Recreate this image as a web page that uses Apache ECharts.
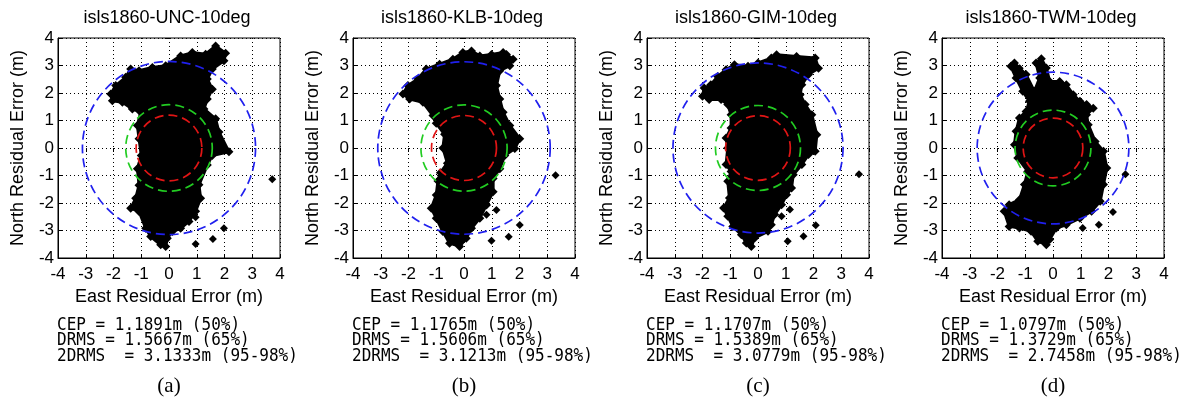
<!DOCTYPE html>
<html><head><meta charset="utf-8">
<script src="https://cdn.jsdelivr.net/npm/echarts/dist/echarts.min.js"></script>
<style>html,body{margin:0;padding:0;background:#fff}#chart{width:1187px;height:401px}</style>
</head><body><div id="chart"></div>
<script>
// ---- data ----
const panelTitles = ['isls1860-UNC-10deg', 'isls1860-KLB-10deg', 'isls1860-GIM-10deg', 'isls1860-TWM-10deg'];
const panelLetters = ['(a)', '(b)', '(c)', '(d)'];
const axisTicks = [-4, -3, -2, -1, 0, 1, 2, 3, 4];
const cepValues = [1.1891, 1.1765, 1.1707, 1.0797];
const drmsValues = [1.5667, 1.5606, 1.5389, 1.3729];
const twoDrmsValues = [3.1333, 3.1213, 3.0779, 2.7458];

// dense cloud outlines (East, North) in metres
const uncOutline = [[1.68,3.71],[2.04,3.45],[1.98,3.17],[1.56,2.87],[1.38,2.51],[1.56,2.14],[1.38,1.78],[1.26,1.42],[1.68,1.06],[1.8,0.58],[2.16,-0.14],[1.56,-0.27],[1.38,-0.62],[1.08,-1.34],[1.14,-1.83],[0.96,-2.3],[0.72,-2.67],[0.42,-2.92],[0.12,-3.04],[-0.06,-3.28],[-0.12,-3.58],[-0.3,-3.52],[-0.66,-3.22],[-0.84,-2.92],[-1.08,-2.31],[-1.38,-2.19],[-1.2,-1.83],[-1.08,-1.35],[-1.14,-0.75],[-1.0,-0.27],[-1.08,0.34],[-1.14,0.82],[-1.02,1.3],[-1.32,1.42],[-1.68,1.66],[-2.04,1.72],[-2.1,1.96],[-1.92,2.27],[-1.56,2.57],[-1.38,2.87],[-1.08,2.81],[-0.6,2.93],[-0.12,2.99],[0.42,3.35],[0.84,3.47],[1.32,3.41]];
const klbOutline = [[-0.04,3.47],[0.27,3.53],[0.57,3.35],[0.99,3.4],[1.41,3.47],[1.53,3.4],[1.77,3.23],[1.65,2.99],[1.29,2.81],[1.17,2.27],[1.29,1.78],[1.41,1.3],[1.65,0.82],[2.01,0.34],[1.83,-0.02],[1.47,-0.27],[1.29,-0.75],[1.05,-1.11],[1.05,-1.59],[0.81,-2.07],[0.57,-2.55],[0.27,-2.92],[0.08,-3.28],[-0.16,-3.58],[-0.52,-3.46],[-0.76,-3.04],[-1.0,-2.55],[-1.18,-2.19],[-1.0,-1.71],[-0.94,-1.2],[-0.85,-0.9],[-0.6,-0.55],[-0.76,0.0],[-0.7,0.5],[-1.0,0.9],[-1.12,1.18],[-1.48,1.66],[-1.96,1.78],[-2.2,1.96],[-2.02,2.27],[-1.66,2.51],[-1.36,2.87],[-0.88,3.05],[-0.4,3.23]];
const gimOutline = [[0.48,3.27],[0.67,3.39],[1.39,3.33],[2.06,3.27],[2.18,2.9],[1.82,2.67],[1.58,2.3],[1.52,1.94],[1.7,1.58],[1.94,1.21],[2.12,0.48],[2.06,-0.12],[1.82,-0.24],[1.58,-0.6],[1.27,-0.97],[1.21,-1.45],[1.03,-1.7],[0.85,-2.06],[0.6,-2.42],[0.48,-2.79],[0.36,-3.03],[-0.12,-3.27],[-0.24,-3.58],[-0.42,-3.45],[-0.6,-3.15],[-0.91,-2.85],[-1.09,-2.48],[-1.24,-2.18],[-1.03,-1.82],[-1.09,-1.21],[-0.97,-0.85],[-1.15,-0.6],[-1.09,0],[-1.15,0.36],[-0.97,0.73],[-0.97,1.21],[-1.09,1.58],[-1.33,1.76],[-1.76,1.76],[-2.0,1.88],[-1.94,2.18],[-1.7,2.3],[-1.45,2.6],[-1.15,2.85],[-0.85,3.03],[-0.36,2.97],[0,3.09]];
const twmOutline = [[-0.42,3.25],[-0.24,2.91],[-0.12,2.42],[0.24,2.42],[0.48,2.3],[0.73,1.94],[0.97,1.7],[1.21,1.58],[1.45,1.45],[1.21,1.21],[1.27,0.85],[1.52,0.24],[1.82,-0.12],[1.94,-0.73],[1.82,-1.33],[1.7,-1.94],[1.39,-2.3],[0.97,-2.55],[0.48,-2.79],[0.12,-2.91],[-0.12,-3.33],[-0.24,-3.52],[-0.55,-3.39],[-0.79,-3.03],[-1.21,-2.91],[-1.58,-2.85],[-1.76,-2.3],[-1.58,-2.06],[-1.21,-1.88],[-1.03,-1.33],[-0.91,-0.85],[-1.27,-0.36],[-1.39,0.12],[-1.33,0.61],[-1.21,1.09],[-0.97,1.33],[-0.85,1.7],[-1.09,2.06],[-1.33,2.55],[-1.52,2.97],[-1.39,3.09],[-0.97,2.67],[-0.67,2.06],[-0.48,2.55],[-0.61,3.09]];

// isolated points outside the dense cloud
const uncOutliers = [[3.72,-1.14],[0.96,-2.52],[0.48,-2.52],[1.98,-2.92],[1.58,-3.31],[0.96,-3.49],[-1.34,1.46]];
const klbOutliers = [[3.3,-0.99],[1.17,-2.25],[0.81,-2.43],[2.01,-2.8],[1.61,-3.23],[0.99,-3.37]];
const gimOutliers = [[3.64,-0.95],[1.15,-2.24],[0.85,-2.48],[2.08,-2.81],[1.64,-3.21],[1.07,-3.39]];
const twmOutliers = [[2.61,-0.95],[2.16,-2.33],[1.65,-2.79],[1.07,-2.91],[-1.45,3.03],[-1.2,2.9]];

const outlines = [uncOutline, klbOutline, gimOutline, twmOutline];
const outliers = [uncOutliers, klbOutliers, gimOutliers, twmOutliers];

// ---- layout / style ----
const gridLefts = [58, 353, 647, 942];
const gridTop = 38, gridW = 222, gridH = 220;
const circleColors = ['#e01515', '#22cc22', '#2020ee'];
const sans = '"Liberation Sans", Arial, sans-serif';

const grids = [], xAxes = [], yAxes = [], series = [], graphics = [];
panelTitles.forEach((t, i) => {
  grids.push({left: gridLefts[i], top: gridTop, width: gridW, height: gridH, show: true,
    borderColor: '#000', borderWidth: 1, containLabel: false, outerBoundsMode: 'none', backgroundColor: '#fff'});
  const base = {gridIndex: i, type: 'value', min: axisTicks[0], max: axisTicks[axisTicks.length - 1], interval: 1};
  xAxes.push(Object.assign({}, base, {position: 'bottom',
    name: 'East Residual Error (m)', nameLocation: 'middle', nameGap: 30,
    nameTextStyle: {fontSize: 18, color: '#000', fontFamily: sans},
    axisLine: {onZero: false, lineStyle: {color: '#000', width: 1}},
    axisTick: {inside: true, length: 4, lineStyle: {color: '#000'}},
    axisLabel: {fontSize: 17, color: '#000', margin: 8, fontFamily: sans, showMinLabel: true, showMaxLabel: true},
    splitLine: {show: true, lineStyle: {color: '#000', type: [1, 3], width: 1}}}));
  xAxes.push(Object.assign({}, base, {position: 'top',
    axisLine: {show: false}, axisTick: {inside: true, length: 4, lineStyle: {color: '#000'}},
    axisLabel: {show: false}, splitLine: {show: false}}));
  yAxes.push(Object.assign({}, base, {position: 'left',
    name: 'North Residual Error (m)', nameLocation: 'middle', nameGap: 31, nameRotate: 90,
    nameTextStyle: {fontSize: 18, color: '#000', fontFamily: sans},
    axisLine: {onZero: false, lineStyle: {color: '#000', width: 1}},
    axisTick: {inside: true, length: 4, lineStyle: {color: '#000'}},
    axisLabel: {fontSize: 17, color: '#000', margin: 4, fontFamily: sans, showMinLabel: true, showMaxLabel: true},
    splitLine: {show: true, lineStyle: {color: '#000', type: [1, 3], width: 1}}}));
  yAxes.push(Object.assign({}, base, {position: 'right',
    axisLine: {show: false}, axisTick: {inside: true, length: 4, lineStyle: {color: '#000'}},
    axisLabel: {show: false}, splitLine: {show: false}}));

  const outline = outlines[i];
  series.push({type: 'custom', xAxisIndex: i * 2, yAxisIndex: i * 2, silent: true, z: 2,
    data: [[0, 0]],
    renderItem: (params, api) => ({type: 'polygon',
      shape: {points: outline.map(p => api.coord(p))},
      style: {fill: '#000', stroke: '#000', lineWidth: 3, lineJoin: 'round', opacity: 1}})});
  series.push({type: 'scatter', xAxisIndex: i * 2, yAxisIndex: i * 2, silent: true, z: 3,
    symbol: 'diamond', symbolSize: 9, itemStyle: {color: '#000', opacity: 1}, data: outline});
  series.push({type: 'scatter', xAxisIndex: i * 2, yAxisIndex: i * 2, silent: true, z: 3,
    symbol: 'diamond', symbolSize: 8, itemStyle: {color: '#000', opacity: 1}, data: outliers[i]});
  const radii = [cepValues[i], drmsValues[i], twoDrmsValues[i]];
  series.push({type: 'custom', xAxisIndex: i * 2, yAxisIndex: i * 2, silent: true, z: 5,
    data: radii.map(r => [0, 0, r]),
    renderItem: (params, api) => {
      const c = api.coord([api.value(0), api.value(1)]);
      const s = api.size([api.value(2), api.value(2)]);
      return {type: 'circle', shape: {cx: c[0], cy: c[1], r: (s[0] + s[1]) / 2},
        style: {fill: 'none', stroke: circleColors[params.dataIndex], lineWidth: 1.7, lineDash: [9, 5]}};
    }});

  const cx = gridLefts[i] + gridW / 2;
  graphics.push({type: 'text', x: cx - 2, y: 18, style: {text: t, fill: '#000', font: '18px ' + sans, align: 'center', verticalAlign: 'middle'}});
  const lines = [
    'CEP = ' + cepValues[i].toFixed(4) + 'm (50%)',
    'DRMS = ' + drmsValues[i].toFixed(4) + 'm (65%)',
    '2DRMS  = ' + twoDrmsValues[i].toFixed(4) + 'm (95-98%)'];
  const ys = [325, 340.5, 356];
  lines.forEach((l, k) => graphics.push({type: 'text', x: gridLefts[i] - 1, y: ys[k], scaleY: 1.12,
    style: {text: l, fill: '#000', font: '16px "DejaVu Sans Mono", monospace', align: 'left', verticalAlign: 'middle'}}));
  graphics.push({type: 'text', x: cx, y: 386, style: {text: panelLetters[i], fill: '#000', font: '21px "Liberation Serif", "Times New Roman", serif', align: 'center', verticalAlign: 'middle'}});
});

const chart = echarts.init(document.getElementById('chart'), null, {renderer: 'canvas'});
chart.setOption({animation: false, backgroundColor: '#fff', grid: grids, xAxis: xAxes, yAxis: yAxes, series: series, graphic: graphics});
</script></body></html>
